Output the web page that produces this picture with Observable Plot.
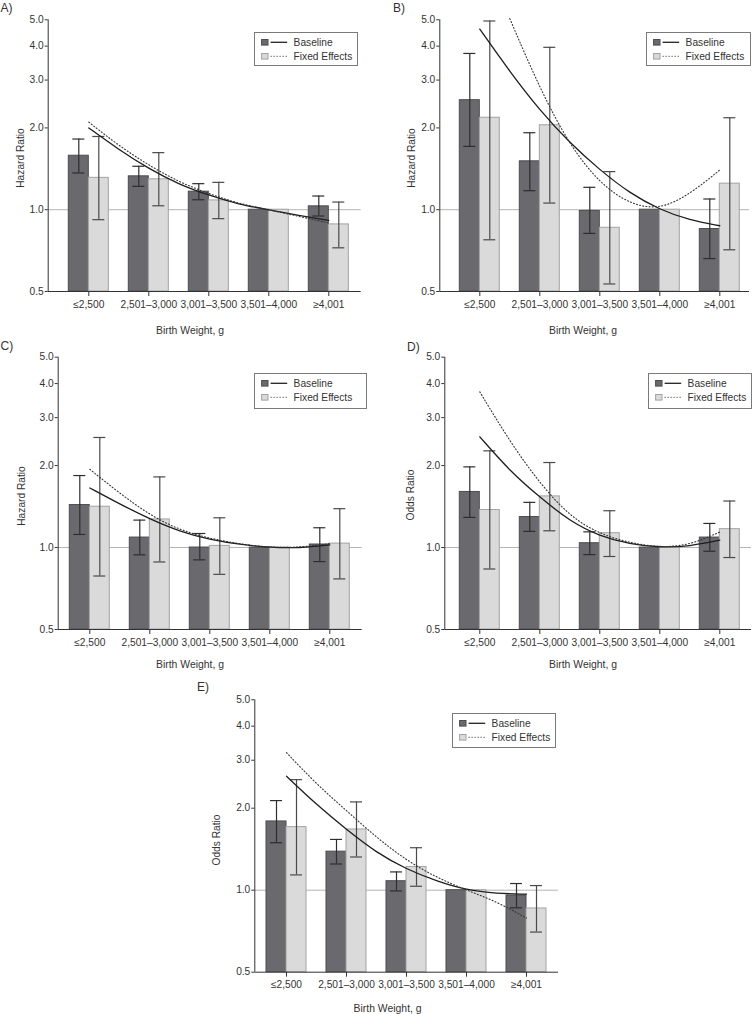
<!DOCTYPE html>
<html><head><meta charset="utf-8">
<script src="https://cdn.jsdelivr.net/npm/d3@7"></script>
<script src="https://cdn.jsdelivr.net/npm/@observablehq/plot@0.6"></script>
<style>
body{margin:0;background:#fff;}
#root{position:relative;width:752px;height:1014px;overflow:hidden;font-family:"Liberation Sans",Arial,Helvetica,sans-serif;color:#333;}
.abs{position:absolute;white-space:nowrap;}
.lbl{font-size:10.4px;transform:translate(-50%,-50%);}
.ylbl{font-size:10.2px;transform:translate(-50%,-50%) rotate(-90deg);}
.letter{font-size:12px;transform:translateY(-50%);}
.legend{border:1px solid #7a7a7a;background:#fff;box-sizing:border-box;font-size:10.2px;}
svg{position:absolute;}
</style></head><body><div id="root"></div>
<script>
// ---- data ----
const categories = ["≤2,500", "2,501–3,000", "3,001–3,500", "3,501–4,000", "≥4,001"];
const yTicks = [0.5, 1, 2, 3, 4, 5];
const seriesNames = ["Baseline", "Fixed Effects"];
const xLabel = "Birth Weight, g";
// positions along birth weight (category index units) where fitted curves were read
const curveX = [0, 0.5, 1, 1.5, 2, 2.5, 3, 3.5, 4];

// Panel A (Hazard Ratio)
const baseA   = [1.58, 1.327, 1.165, 1.0, 1.029];
const baseALo = [1.365, 1.219, 1.088, null, 0.948];
const baseAHi = [1.82, 1.445, 1.247, null, 1.123];
const fixA    = [1.31, 1.294, 1.082, 1.0, 0.883];
const fixALo  = [0.919, 1.034, 0.927, null, 0.724];
const fixAHi  = [1.86, 1.622, 1.261, null, 1.067];
const fitBaseA = [2.0, 1.664, 1.416, 1.24, 1.13, 1.046, 1.0, 0.953, 0.913];
const fitFixA  = [2.10, 1.72, 1.457, 1.265, 1.145, 1.052, 1.0, 0.945, 0.893];

// Panel B (Hazard Ratio)
const baseB   = [2.53, 1.507, 0.99, 1.0, 0.849];
const baseBLo = [1.71, 1.175, 0.818, null, 0.661];
const baseBHi = [3.76, 1.92, 1.209, null, 1.095];
const fixB    = [2.18, 2.046, 0.858, 1.0, 1.247];
const fixBLo  = [0.775, 1.058, 0.533, null, 0.712];
const fixBHi  = [4.95, 3.96, 1.381, null, 2.18];
const fitBaseB = [4.62, 3.22, 2.32, 1.76, 1.40, 1.15, 1.0, 0.914, 0.873];
const fitFixB  = [null, 5.05, 2.79, 1.72, 1.25, 1.046, 1.0, 1.139, 1.40];

// Panel C (Hazard Ratio)
const baseC   = [1.432, 1.088, 1.0, 1.0, 1.026];
const baseCLo = [1.117, 0.94, 0.901, null, 0.888];
const baseCHi = [1.838, 1.261, 1.126, null, 1.182];
const fixC    = [1.412, 1.268, 1.014, 1.0, 1.034];
const fixCLo  = [0.786, 0.885, 0.797, null, 0.767];
const fixCHi  = [2.536, 1.817, 1.286, null, 1.389];
const fitBaseC = [1.655, 1.445, 1.272, 1.145, 1.07, 1.026, 1.0, 0.995, 1.023];
const fitFixC  = [1.938, 1.58, 1.316, 1.158, 1.08, 1.03, 1.0, 1.0, 1.034];

// Panel D (Odds Ratio)
const baseD   = [1.6, 1.294, 1.037, 1.0, 1.088];
const baseDLo = [1.29, 1.146, 0.942, null, 0.969];
const baseDHi = [1.978, 1.465, 1.142, null, 1.226];
const fixD    = [1.373, 1.541, 1.129, 1.0, 1.168];
const fixDLo  = [0.834, 1.152, 0.927, null, 0.919];
const fixDHi  = [2.265, 2.052, 1.365, null, 1.482];
const fitBaseD = [2.55, 1.91, 1.53, 1.25, 1.10, 1.03, 1.0, 1.01, 1.064];
const fitFixD  = [3.73, 2.45, 1.72, 1.3, 1.12, 1.04, 1.0, 1.02, 1.14];

// Panel E (Odds Ratio)
const baseE   = [1.788, 1.385, 1.079, 1.0, 0.956];
const baseELo = [1.494, 1.248, 0.994, null, 0.862];
const baseEHi = [2.133, 1.536, 1.167, null, 1.058];
const fixE    = [1.704, 1.671, 1.217, 1.0, 0.857];
const fixELo  = [1.138, 1.324, 1.034, null, 0.702];
const fixEHi  = [2.546, 2.109, 1.432, null, 1.04];
const fitBaseE = [2.62, 2.06, 1.67, 1.373, 1.193, 1.081, 1.0, 0.972, 0.967];
const fitFixE  = [3.2, 2.45, 1.96, 1.56, 1.287, 1.113, 1.0, 0.909, 0.79];

// ---- layout ----
const STEP = 60;
const DARK = "#69696e", DARK_STROKE = "#4c4c50";
const LIGHT = "#dadada", LIGHT_STROKE = "#a2a2a2";
const panels = [
  {letter:"A)", yLabel:"Hazard Ratio", base:baseA, baseLo:baseALo, baseHi:baseAHi, fix:fixA, fixLo:fixALo, fixHi:fixAHi, fitBase:fitBaseA, fitFix:fitFixA,
   left:0, top:0, w:376, h:340, axisX:47.7, rightEnd:360.7, cat0:88.3, yTop:19.3, yBot:291,
   legend:[254.3,31.7,104,34.5], letterPos:[0.5,8], ylab:[19.5,158], xlab:[190,330]},
  {letter:"B)", yLabel:"Hazard Ratio", base:baseB, baseLo:baseBLo, baseHi:baseBHi, fix:fixB, fixLo:fixBLo, fixHi:fixBHi, fitBase:fitBaseB, fitFix:fitFixB,
   left:376, top:0, w:376, h:340, axisX:439.3, rightEnd:749, cat0:479.3, yTop:19.3, yBot:291,
   legend:[646.3,31.7,105,34.5], letterPos:[393,8], ylab:[410.5,158], xlab:[583,330]},
  {letter:"C)", yLabel:"Hazard Ratio", base:baseC, baseLo:baseCLo, baseHi:baseCHi, fix:fixC, fixLo:fixCLo, fixHi:fixCHi, fitBase:fitBaseC, fitFix:fitFixC,
   left:0, top:336, w:376, h:340, axisX:57.7, rightEnd:361.7, cat0:89.3, yTop:356.7, yBot:629,
   legend:[254.3,373.3,113,35.4], letterPos:[0.5,346], ylab:[20.7,496], xlab:[190,664]},
  {letter:"D)", yLabel:"Odds Ratio", base:baseD, baseLo:baseDLo, baseHi:baseDHi, fix:fixD, fixLo:fixDLo, fixHi:fixDHi, fitBase:fitBaseD, fitFix:fitFixD,
   left:376, top:336, w:376, h:340, axisX:444.3, rightEnd:751, cat0:479.3, yTop:356.7, yBot:629,
   legend:[647.7,373.3,104.3,35.4], letterPos:[407,347], ylab:[410,495], xlab:[583,664]},
  {letter:"E)", yLabel:"Odds Ratio", base:baseE, baseLo:baseELo, baseHi:baseEHi, fix:fixE, fixLo:fixELo, fixHi:fixEHi, fitBase:fitBaseE, fitFix:fitFixE,
   left:190, top:676, w:376, h:338, axisX:254.3, rightEnd:558, cat0:286, yTop:699.3, yBot:971.7,
   legend:[451.7,713.3,104,35], letterPos:[197,687], ylab:[215.5,840], xlab:[387.6,1008]}
];

const root = document.getElementById("root");
function addDiv(cls, text, x, y, extra) {
  const d = document.createElement("div");
  d.className = "abs " + cls;
  d.textContent = text;
  d.style.left = x + "px"; d.style.top = y + "px";
  if (extra) Object.assign(d.style, extra);
  root.appendChild(d);
  return d;
}

function drawLegend(box) {
  const [x, y, w, h] = box;
  const lg = document.createElement("div");
  lg.className = "abs legend";
  Object.assign(lg.style, {left: x + "px", top: y + "px", width: w + "px", height: h + "px"});
  const rows = [
    {name: seriesNames[0], fill: DARK, stroke: DARK_STROKE, dash: null, cy: 10.3},
    {name: seriesNames[1], fill: LIGHT, stroke: LIGHT_STROKE, dash: "1,2", cy: 24.3}
  ];
  const ns = "http://www.w3.org/2000/svg";
  const s = document.createElementNS(ns, "svg");
  s.setAttribute("width", w); s.setAttribute("height", h);
  s.style.left = "-1px"; s.style.top = "-1px";
  for (const r of rows) {
    const rect = document.createElementNS(ns, "rect");
    rect.setAttribute("x", 7.6); rect.setAttribute("y", r.cy - 2.8);
    rect.setAttribute("width", 6.4); rect.setAttribute("height", 5.6);
    rect.setAttribute("fill", r.fill); rect.setAttribute("stroke", r.stroke);
    s.appendChild(rect);
    const ln = document.createElementNS(ns, "line");
    ln.setAttribute("x1", 16.6); ln.setAttribute("x2", 33.2);
    ln.setAttribute("y1", r.cy); ln.setAttribute("y2", r.cy);
    ln.setAttribute("stroke", "#222"); ln.setAttribute("stroke-width", r.dash ? 1 : 1.3);
    if (r.dash) ln.setAttribute("stroke-dasharray", r.dash);
    s.appendChild(ln);
    const t = document.createElementNS(ns, "text");
    t.setAttribute("x", 39.6); t.setAttribute("y", r.cy);
    t.setAttribute("dy", "0.35em"); t.setAttribute("fill", "#333");
    t.setAttribute("font-size", "10.2px");
    t.textContent = r.name;
    s.appendChild(t);
  }
  lg.appendChild(s);
  root.appendChild(lg);
}

for (const p of panels) {
  const x0 = (p.axisX - p.cat0) / STEP, x1 = (p.rightEnd - p.cat0) / STEP;
  const bars = categories.flatMap((c, i) => [
    {i, c, s: seriesNames[0], v: p.base[i], lo: p.baseLo[i], hi: p.baseHi[i], a: i - 1/3, b: i, m: i - 1/6},
    {i, c, s: seriesNames[1], v: p.fix[i], lo: p.fixLo[i], hi: p.fixHi[i], a: i, b: i + 1/3, m: i + 1/6}
  ]);
  const darkBars = bars.filter(d => d.s === seriesNames[0]);
  const lightBars = bars.filter(d => d.s === seriesNames[1]);
  const ci = bars.filter(d => d.lo != null);
  const ciDark = ci.filter(d => d.s === seriesNames[0]);
  const ciLight = ci.filter(d => d.s === seriesNames[1]);
  const fitB = curveX.map((x, k) => ({x, y: p.fitBase[k]})).filter(d => d.y != null);
  const fitF = curveX.map((x, k) => ({x, y: p.fitFix[k]})).filter(d => d.y != null);
  const cap = 0.1;
  const errMarks = (data, color) => [
    Plot.ruleX(data, {x: "m", y1: "lo", y2: "hi", stroke: color, strokeWidth: 1.2}),
    Plot.ruleY(data, {y: "hi", x1: d => d.m - cap, x2: d => d.m + cap, stroke: color, strokeWidth: 1.2}),
    Plot.ruleY(data, {y: "lo", x1: d => d.m - cap, x2: d => d.m + cap, stroke: color, strokeWidth: 1.2})
  ];
  const svg = Plot.plot({
    width: p.w, height: p.h,
    marginLeft: p.axisX - p.left, marginRight: p.left + p.w - p.rightEnd,
    marginTop: p.yTop - p.top, marginBottom: p.top + p.h - p.yBot,
    style: {fontFamily: '"Liberation Sans", Arial, Helvetica, sans-serif', fontSize: "10.2px", color: "#333", background: "transparent", overflow: "visible"},
    x: {type: "linear", domain: [x0, x1]},
    y: {type: "log", domain: [0.5, 5]},
    marks: [
      Plot.ruleY([1], {stroke: "#b4b4b4", strokeWidth: 1}),
      Plot.rect(darkBars, {x1: "a", x2: "b", y1: () => 0.5, y2: "v", fill: DARK, stroke: DARK_STROKE, strokeWidth: 1}),
      Plot.rect(lightBars, {x1: "a", x2: "b", y1: () => 0.5, y2: "v", fill: LIGHT, stroke: LIGHT_STROKE, strokeWidth: 1}),
      ...errMarks(ciDark, "#2e2e2e"),
      ...errMarks(ciLight, "#4a4a4a"),
      Plot.line(fitB, {x: "x", y: "y", curve: "basis", stroke: "#1e1e1e", strokeWidth: 1.3}),
      Plot.line(fitF, {x: "x", y: "y", curve: "basis", stroke: "#333", strokeWidth: 1.1, strokeDasharray: "1,2.2"}),
      Plot.ruleY([0.5], {stroke: "#333", strokeWidth: 1}),
      Plot.ruleX([x0], {stroke: "#333", strokeWidth: 1}),
      Plot.axisX({ticks: [0, 1, 2, 3, 4], tickFormat: i => categories[i], tickSize: 5, tickPadding: 4, label: null, stroke: "#333"}),
      Plot.axisY({ticks: yTicks, tickFormat: d3.format(".1f"), tickSize: 3, tickPadding: 1.5, label: null, stroke: "#333"})
    ]
  });
  svg.style.left = p.left + "px";
  svg.style.top = p.top + "px";
  root.appendChild(svg);
  addDiv("letter", p.letter, p.letterPos[0], p.letterPos[1]);
  addDiv("ylbl", p.yLabel, p.ylab[0], p.ylab[1]);
  addDiv("lbl", xLabel, p.xlab[0], p.xlab[1]);
  drawLegend(p.legend);
}
</script></body></html>
